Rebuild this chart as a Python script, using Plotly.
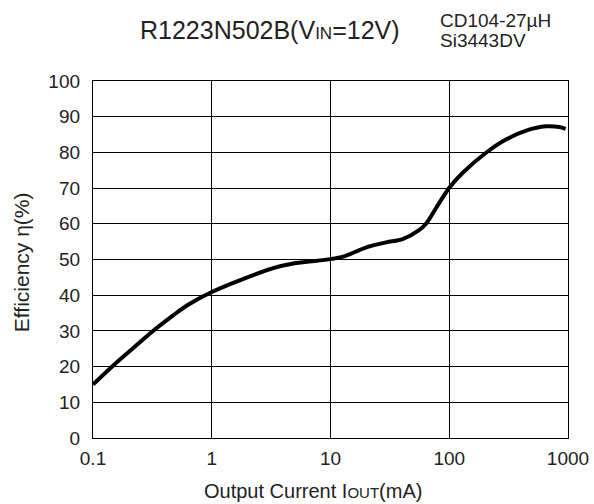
import plotly.graph_objects as go

# Data
iout_ma = [0.1, 0.149, 0.22, 0.313, 0.476, 0.617, 1.0, 1.85, 3.3, 4.85, 10, 12.8, 20, 29.4,
           40.5, 54.5, 64, 77.7, 100, 130, 204, 300, 444, 653, 845, 955]
efficiency = [15.0, 20.4, 25.3, 29.7, 34.4, 37.1, 40.9, 44.6, 47.6, 48.9, 50.1, 50.8, 53.4, 54.8,
              55.7, 58.0, 60.1, 64.5, 70.1, 74.3, 79.9, 83.6, 86.1, 87.3, 87.1, 86.6]
x_tickvals = [0.1, 1, 10, 100, 1000]
x_ticktext = ["0.1", "1", "10", "100", "1000"]
y_tickvals = list(range(0, 101, 10))

FONT = "Liberation Sans, Arial, Helvetica, sans-serif"
COLOR = "#222222"

fig = go.Figure()
fig.add_trace(go.Scatter(
    x=iout_ma, y=efficiency, mode="lines",
    line=dict(color="black", width=4, shape="spline", smoothing=0.8),
    showlegend=False, hoverinfo="skip"))

W, H = 594, 504
L, R, T, B = 92.5, 568.5, 80.5, 438.5

def px(xp):
    return (xp - L) / (R - L)

def py(yp):
    return (B - yp) / (B - T)

axis_common = dict(showgrid=True, gridcolor="black", gridwidth=1,
                   showline=True, linecolor="black", linewidth=1.3, mirror=True,
                   ticks="", zeroline=False, automargin=False,
                   ticklabeloverflow="allow",
                   tickfont=dict(size=19, family=FONT, color=COLOR))

fig.update_layout(
    width=W, height=H,
    margin=dict(l=L, r=W - R, t=T, b=H - B, pad=0),
    paper_bgcolor="white", plot_bgcolor="white",
    font=dict(family=FONT, size=19, color=COLOR),
    xaxis=dict(type="log", range=[-1, 3], tickvals=x_tickvals, ticktext=x_ticktext,
               ticklabelstandoff=3, **axis_common),
    yaxis=dict(range=[0, 100], tickvals=y_tickvals, ticklabelstandoff=8, **axis_common),
    annotations=[
        dict(text="R1223N502B(V<span style=\"font-size:17px\">IN</span>=12V)",
             xref="paper", yref="paper", x=px(269.5), y=py(29.5),
             xanchor="center", yanchor="middle", showarrow=False,
             font=dict(size=25, family=FONT, color=COLOR)),
        dict(text="CD104-27µH",
             xref="paper", yref="paper", x=px(438), y=py(20),
             xanchor="left", yanchor="middle", align="left", showarrow=False,
             font=dict(size=19, family=FONT, color=COLOR)),
        dict(text="Si3443DV",
             xref="paper", yref="paper", x=px(438), y=py(40),
             xanchor="left", yanchor="middle", align="left", showarrow=False,
             font=dict(size=19, family=FONT, color=COLOR)),
        dict(text="Output Current I<span style=\"font-size:15px\">OUT</span>(mA)",
             xref="paper", yref="paper", x=px(313), y=py(492),
             xanchor="center", yanchor="middle", showarrow=False,
             font=dict(size=20, family=FONT, color=COLOR)),
        dict(text="Efficiency η(%)", textangle=-90,
             xref="paper", yref="paper", x=px(21), y=py(262.5),
             xanchor="center", yanchor="middle", showarrow=False,
             font=dict(size=21, family=FONT, color=COLOR)),
    ],
)

fig.write_html("out.html")
